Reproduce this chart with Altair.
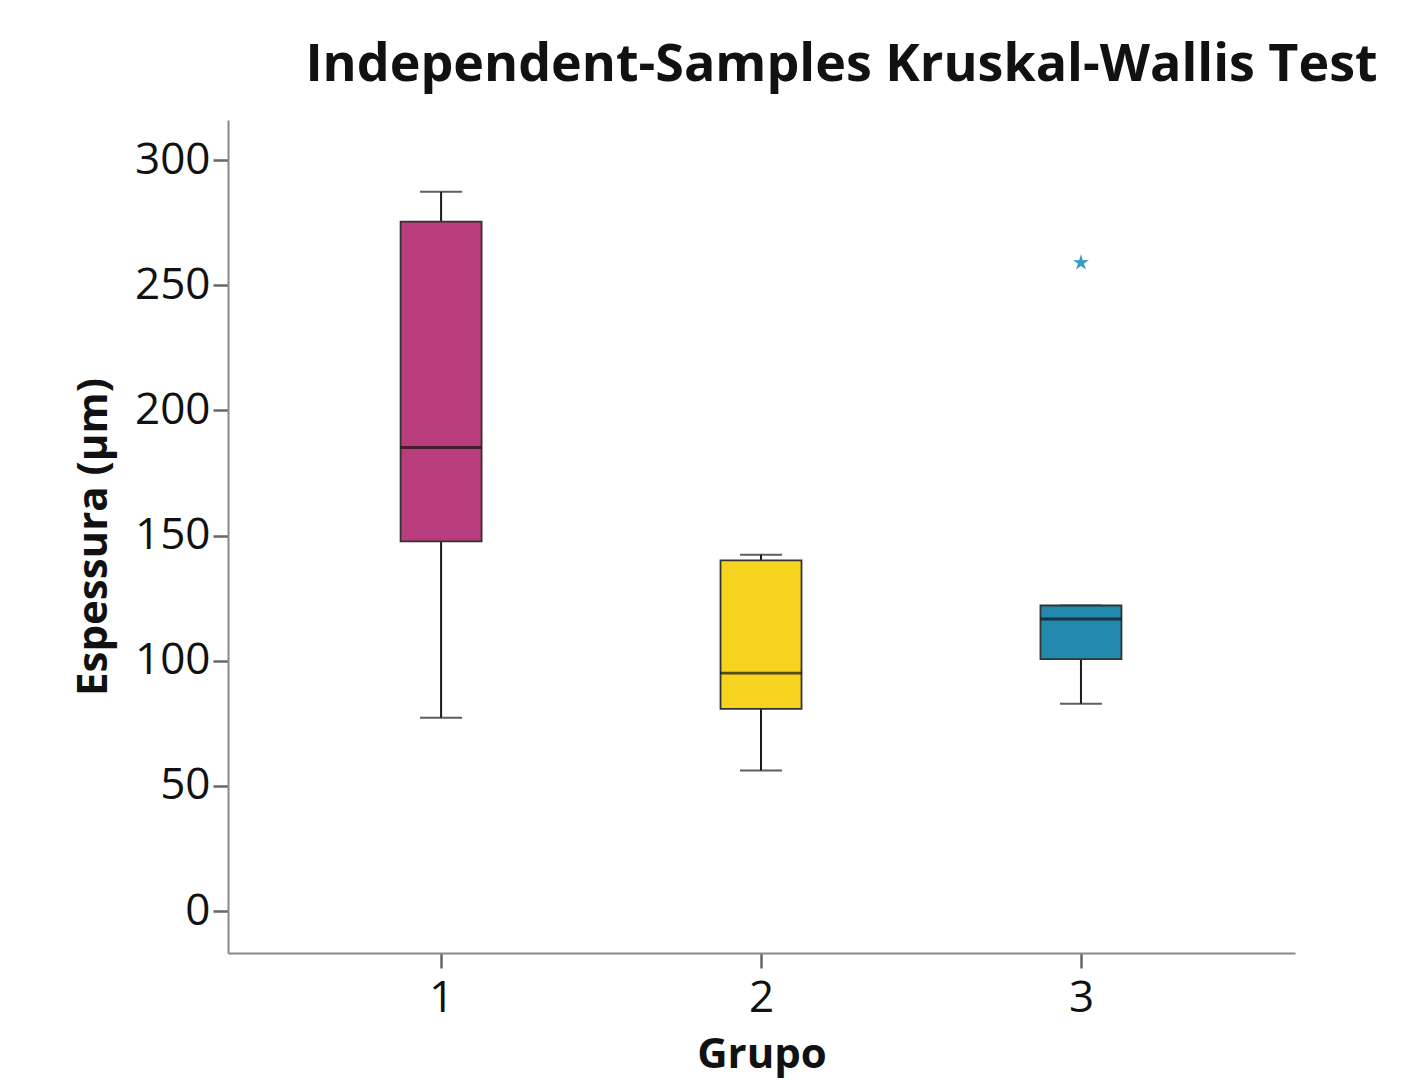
import altair as alt
import pandas as pd

groups = [1, 2, 3]
whisker_low = [77.3, 56.2, 82.9]
q1 = [147.7, 80.8, 100.7]
median = [185.2, 95.1, 116.7]
q3 = [275.4, 140.1, 122.1]
whisker_high = [287.3, 142.4, 122.1]
colors = ["#B93D7C", "#F5D31E", "#2389AE"]

outlier_group = [3]
outlier_value = [259.0]

df = pd.DataFrame({
    "Grupo": groups, "lo": whisker_low, "q1": q1, "med": median,
    "q3": q3, "hi": whisker_high, "color": colors,
})
out_df = pd.DataFrame({"Grupo": outlier_group, "v": outlier_value})

FONT = "Open Sans"
xs = alt.Scale(domain=[0.334, 3.669], nice=False, zero=False, padding=0)
ys = alt.Scale(domain=[-16.7, 316], nice=False, zero=False)

x_enc = alt.X("Grupo:Q", scale=xs, title="Grupo",
              axis=alt.Axis(values=groups, format="d", grid=False))
y_enc_axis = alt.Y("lo:Q", scale=ys, title="Espessura (µm)",
                   axis=alt.Axis(values=[0, 50, 100, 150, 200, 250, 300], grid=False))

base = alt.Chart(df)

lower = base.mark_rule(color="#1a1a1a", strokeWidth=2).encode(
    x=x_enc, y=y_enc_axis, y2="q1:Q")
upper = base.mark_rule(color="#1a1a1a", strokeWidth=2).encode(
    x=alt.X("Grupo:Q", scale=xs), y=alt.Y("q3:Q", scale=ys), y2="hi:Q")
cap_lo = base.mark_tick(color="#1a1a1a", size=42, thickness=2, orient="horizontal").encode(
    x=alt.X("Grupo:Q", scale=xs), y=alt.Y("lo:Q", scale=ys))
cap_hi = base.mark_tick(color="#1a1a1a", size=42, thickness=2, orient="horizontal").encode(
    x=alt.X("Grupo:Q", scale=xs), y=alt.Y("hi:Q", scale=ys))
box = base.mark_bar(size=81, stroke="#333333", strokeWidth=1.8, orient="vertical").encode(
    x=alt.X("Grupo:Q", scale=xs), y=alt.Y("q1:Q", scale=ys), y2="q3:Q",
    color=alt.Color("color:N", scale=None))
med = base.mark_tick(color="#111111", size=81, thickness=2.8, orient="horizontal").encode(
    x=alt.X("Grupo:Q", scale=xs), y=alt.Y("med:Q", scale=ys))

star_path = ("M0,-1L0.22,-0.3L0.95,-0.31L0.36,0.12L0.59,0.81L0,0.38"
             "L-0.59,0.81L-0.36,0.12L-0.95,-0.31L-0.22,-0.3Z")
outl = alt.Chart(out_df).mark_point(shape=star_path, filled=True, size=280,
                                    color="#3A9CC4", opacity=1).encode(
    x=alt.X("Grupo:Q", scale=xs), y=alt.Y("v:Q", scale=ys))

chart = alt.layer(lower, upper, cap_lo, cap_hi, box, med, outl).properties(
    width=1067, height=833,
    autosize=alt.AutoSizeParams(type="none"),
    padding={"left": 220, "top": 112, "right": 110, "bottom": 127},
    title=alt.TitleParams("Independent-Samples Kruskal-Wallis Test",
                          font=FONT, fontSize=52, fontWeight="bold", color="#111111",
                          anchor="middle", dx=80, offset=28),
).configure_view(stroke=None).configure_axis(
    domainColor="#888888", domainWidth=2, tickColor="#666666", tickWidth=2.5,
    tickSize=15, labelFont=FONT, labelFontSize=44, labelColor="#111111",
    titleFont=FONT, titleFontSize=42, titleFontWeight="bold", titleColor="#111111",
).configure_axisY(labelPadding=3, titlePadding=19).configure_axisX(
    labelPadding=8, titlePadding=14)

chart.save("out.html", embed_options={"renderer": "svg", "actions": False})
